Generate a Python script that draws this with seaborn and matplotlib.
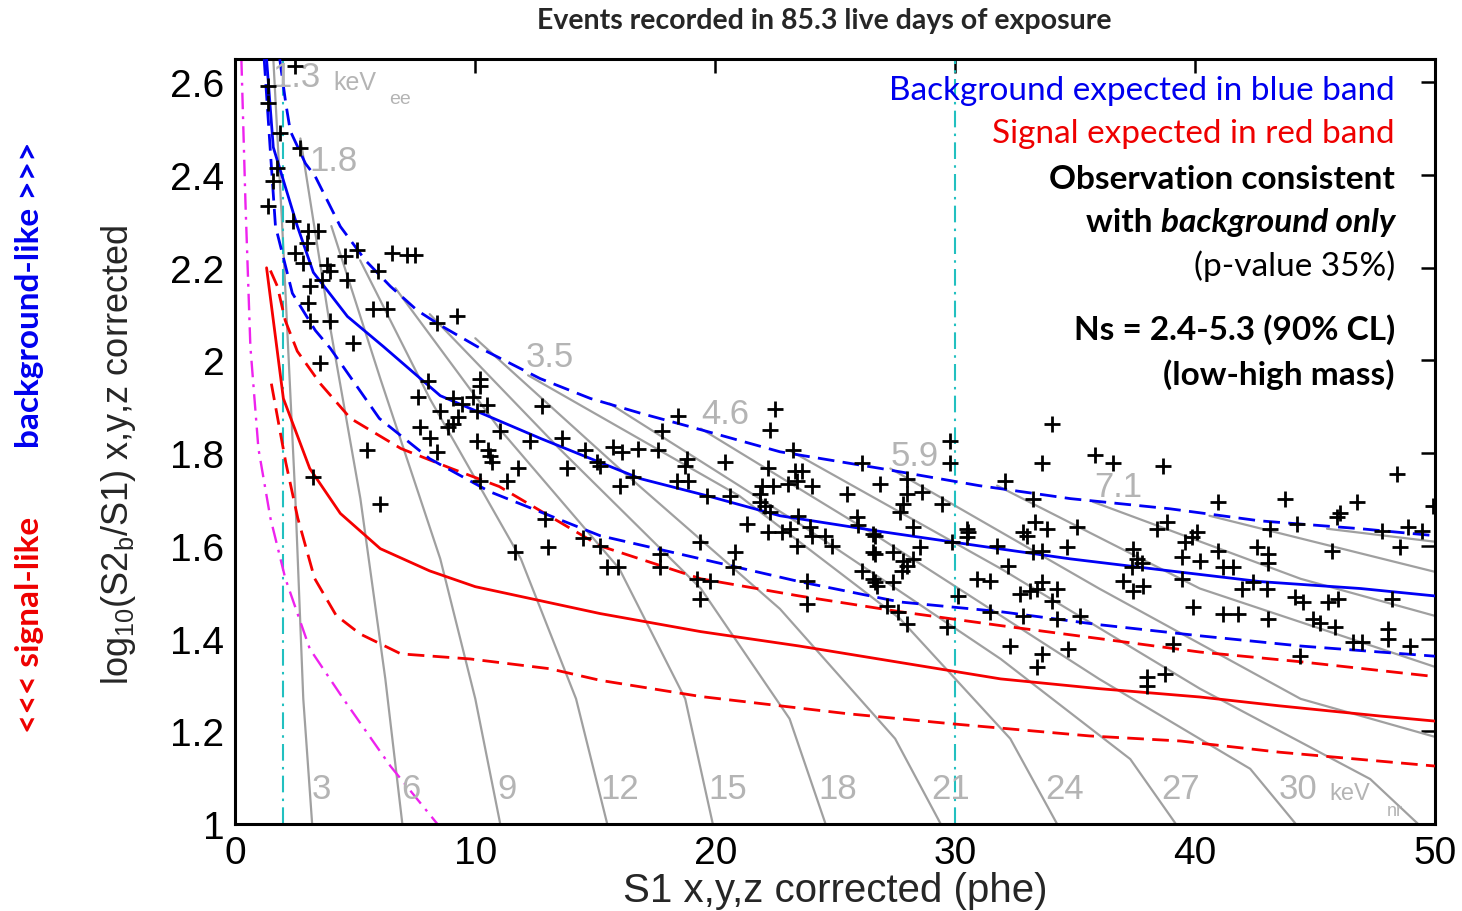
import matplotlib
matplotlib.use("Agg")
import matplotlib.pyplot as plt
import seaborn as sns
import pandas as pd

sns.set_theme(style="white")
plt.rcParams['font.family'] = ['Liberation Sans', 'DejaVu Sans']
plt.rcParams['mathtext.fontset'] = 'custom'
plt.rcParams['mathtext.rm'] = 'Liberation Sans'
plt.rcParams['mathtext.it'] = 'Liberation Sans:italic'

# ---------------- data ----------------
x_ticks = [0, 10, 20, 30, 40, 50]
x_tick_labels = ["0", "10", "20", "30", "40", "50"]
y_ticks = [1.0, 1.2, 1.4, 1.6, 1.8, 2.0, 2.2, 2.4, 2.6]
y_tick_labels = ["1", "1.2", "1.4", "1.6", "1.8", "2", "2.2", "2.4", "2.6"]

events_s1 = [2.50, 1.375, 1.375, 1.875, 2.71, 1.75, 1.58, 1.375, 2.42, 3.04, 3.46, 3.0, 2.5, 2.83,
             3.83, 3.96, 4.58, 5.08, 6.54, 7.17, 7.5, 5.96, 3.125, 3.625, 4.67, 3.04, 5.75, 6.33,
             3.125, 3.96, 8.42, 9.25, 4.92, 3.54, 3.25, 5.5, 6.04,
             8.04, 7.625, 7.71, 8.125, 8.42, 10.21, 10.21, 9.92, 9.08, 9.46, 10.5, 10.08, 8.54, 9.29,
             9.08, 8.875, 12.79, 11.04, 10.08, 12.29, 13.625, 10.54, 10.625, 10.71, 11.79, 14.58,
             15.75, 16.125, 16.79, 17.625, 17.79, 18.46, 13.83, 15.08, 18.83, 18.75, 20.42, 10.21,
             11.33, 16.04, 16.58, 18.42, 18.875, 19.67, 20.625, 15.21, 12.92, 13.04, 11.67, 14.5,
             15.21, 15.5, 15.96, 17.71, 17.71, 19.375, 19.375, 19.25, 19.79, 20.83, 20.75, 21.33,
             22.5, 22.29, 23.25, 26.125, 29.79, 29.79, 22.21, 23.33, 23.625, 21.96, 22.42, 23.04,
             23.42, 24.04, 21.875, 21.875, 26.875, 28.0, 28.0, 28.625, 25.5, 29.46, 27.83, 27.71,
             22.08, 22.29, 23.46, 25.92, 25.96, 22.21, 22.79, 23.125, 23.96, 24.04, 24.58, 28.25,
             26.58, 23.42, 24.875, 29.875, 28.54, 26.58, 27.42, 27.83, 28.0, 28.25, 26.125, 30.54,
             23.83, 23.83, 27.17, 27.625, 28.0, 29.67, 26.58, 26.75, 27.42, 30.125,
             34.04, 33.625, 35.83, 36.58, 38.67, 32.08, 33.25, 33.33, 33.83, 32.83, 33.0, 30.5,
             30.5, 35.08, 38.42, 38.83, 26.67, 31.75, 34.67, 33.25, 33.625, 37.42, 37.58, 37.79,
             37.375, 26.67, 27.79, 32.21, 30.92, 31.46, 37.0, 37.42, 37.83, 26.67, 32.71, 33.125,
             33.42, 33.625, 34.25, 34.04, 31.46, 32.83, 35.21,
             40.96, 43.75, 46.75, 46.04, 45.92, 44.25, 43.125, 40.08, 39.875, 39.58, 40.96, 42.58,
             43.04, 43.04, 45.71, 39.46, 40.21, 41.17, 41.58, 39.46, 41.96, 42.42, 43.0, 44.17,
             44.5, 45.54, 45.96, 39.92, 41.17, 41.79, 43.04, 44.92, 45.21, 45.83, 48.42, 49.92,
             47.79, 48.875, 49.46, 48.54, 48.21, 46.58, 46.96, 48.04, 48.04, 48.96, 44.375, 38.0,
             38.0, 38.75, 39.08, 32.29, 33.625, 34.71, 33.42, 34.25]
events_logratio = [2.635, 2.592, 2.555, 2.490, 2.458, 2.415, 2.387, 2.333, 2.300, 2.279, 2.279, 2.253,
                   2.231, 2.210, 2.205, 2.194, 2.225, 2.238, 2.231, 2.227, 2.227, 2.194, 2.160, 2.173,
                   2.173, 2.123, 2.112, 2.112, 2.086, 2.086, 2.080, 2.097, 2.037, 1.994, 1.749, 1.806,
                   1.691,
                   1.955, 1.922, 1.857, 1.832, 1.803, 1.961, 1.944, 1.922, 1.918, 1.907, 1.903, 1.892,
                   1.890, 1.879, 1.864, 1.857, 1.901, 1.847, 1.827, 1.827, 1.832, 1.806, 1.793, 1.782,
                   1.767, 1.806, 1.814, 1.803, 1.810, 1.806, 1.847, 1.881, 1.767, 1.782, 1.788, 1.773,
                   1.782, 1.741, 1.741, 1.730, 1.749, 1.741, 1.741, 1.708, 1.708, 1.773, 1.659, 1.598,
                   1.587, 1.616, 1.600, 1.555, 1.555, 1.583, 1.555, 1.609, 1.486, 1.529, 1.525, 1.587,
                   1.555, 1.648,
                   1.896, 1.849, 1.806, 1.778, 1.827, 1.778, 1.767, 1.762, 1.762, 1.730, 1.730, 1.734,
                   1.741, 1.730, 1.713, 1.695, 1.734, 1.745, 1.713, 1.717, 1.713, 1.691, 1.691, 1.674,
                   1.685, 1.674, 1.665, 1.663, 1.644, 1.631, 1.631, 1.637, 1.641, 1.622, 1.622, 1.641,
                   1.626, 1.600, 1.600, 1.609, 1.598, 1.587, 1.587, 1.568, 1.557, 1.572, 1.546, 1.631,
                   1.525, 1.475, 1.471, 1.458, 1.432, 1.425, 1.529, 1.514, 1.523, 1.492,
                   1.864, 1.778, 1.795, 1.778, 1.773, 1.741, 1.702, 1.652, 1.637, 1.631, 1.622, 1.637,
                   1.620, 1.641, 1.637, 1.652, 1.622, 1.600, 1.598, 1.587, 1.590, 1.594, 1.572, 1.562,
                   1.555, 1.583, 1.546, 1.557, 1.529, 1.525, 1.525, 1.503, 1.514, 1.523, 1.497, 1.503,
                   1.508, 1.523, 1.508, 1.482, 1.458, 1.449, 1.449,
                   1.695, 1.702, 1.695, 1.670, 1.663, 1.648, 1.637, 1.631, 1.620, 1.609, 1.590, 1.598,
                   1.583, 1.562, 1.590, 1.577, 1.568, 1.555, 1.555, 1.529, 1.508, 1.523, 1.508, 1.490,
                   1.479, 1.479, 1.486, 1.469, 1.454, 1.454, 1.443, 1.443, 1.434, 1.425, 1.756, 1.685,
                   1.633, 1.641, 1.633, 1.598, 1.486, 1.393, 1.393, 1.421, 1.400, 1.384, 1.363, 1.318,
                   1.298, 1.324, 1.389, 1.384, 1.367, 1.378, 1.339, 1.443]

# background (ER) band: median and 10/90% lines
blue_mid_s1 = [1.30, 1.58, 2.58, 3.25, 4.67, 6.17, 8.54, 12.71, 16.88, 19.67, 22.7, 26.9, 31.0, 34.8, 38.96, 42.7, 46.9, 50.0]
blue_mid_y = [2.65, 2.46, 2.29, 2.19, 2.095, 2.03, 1.924, 1.832, 1.745, 1.708, 1.665, 1.631, 1.600, 1.572, 1.546, 1.523, 1.508, 1.492]
blue_hi_s1 = [1.85, 2.10, 2.29, 2.92, 3.33, 4.375, 5.42, 6.46, 7.58, 8.54, 10.08, 12.7, 14.8, 16.9, 18.96, 22.7, 26.9, 31.0, 34.8, 38.96, 42.7, 46.9, 50.0]
blue_hi_y = [2.65, 2.555, 2.495, 2.425, 2.397, 2.289, 2.216, 2.160, 2.108, 2.076, 2.030, 1.961, 1.918, 1.886, 1.857, 1.803, 1.767, 1.730, 1.702, 1.680, 1.654, 1.637, 1.622]
blue_lo_s1 = [1.20, 1.46, 1.67, 2.375, 3.33, 3.96, 6.0, 8.1, 10.6, 15.2, 19.4, 23.5, 27.7, 31.9, 36.0, 40.2, 44.4, 50.0]
blue_lo_y = [2.65, 2.45, 2.29, 2.145, 2.065, 2.026, 1.875, 1.788, 1.717, 1.622, 1.572, 1.523, 1.479, 1.458, 1.430, 1.406, 1.384, 1.362]

# signal (NR) band: median and 10/90% lines
red_mid_s1 = [1.30, 2.0, 3.1, 4.375, 6.04, 8.1, 10.0, 15.2, 19.4, 23.5, 31.9, 36.0, 40.2, 43.5, 47.7, 50.0]
red_mid_y = [2.20, 1.918, 1.767, 1.670, 1.594, 1.546, 1.512, 1.454, 1.415, 1.384, 1.313, 1.292, 1.274, 1.255, 1.233, 1.222]
red_hi_s1 = [1.46, 1.75, 2.08, 2.58, 3.54, 4.8, 6.9, 9.0, 11.0, 15.2, 19.4, 23.5, 27.7, 31.9, 36.0, 40.2, 44.4, 50.0]
red_hi_y = [2.194, 2.16, 2.086, 2.02, 1.950, 1.875, 1.81, 1.767, 1.728, 1.600, 1.529, 1.492, 1.458, 1.428, 1.400, 1.371, 1.350, 1.318]
red_lo_s1 = [1.5, 2.1, 2.6, 3.3, 4.2, 5.2, 6.9, 9.8, 13.1, 15.2, 19.4, 25.5, 29.9, 35.6, 39.4, 43.5, 50.0]
red_lo_y = [1.95, 1.78, 1.66, 1.53, 1.45, 1.41, 1.367, 1.356, 1.335, 1.31, 1.275, 1.238, 1.216, 1.19, 1.179, 1.155, 1.125]

# S2 threshold curve (magenta) and S1 analysis window (cyan)
s2cut_s1 = [0.25, 0.42, 0.625, 0.96, 1.46, 2.08, 3.1, 4.5, 6.46, 8.42]
s2cut_y = [2.65, 2.34, 2.03, 1.81, 1.66, 1.53, 1.378, 1.27, 1.125, 1.0]
s1_window = [2.0, 30.0]

# constant-energy contours (gray), one list per contour
contour_s1 = [
    [1.58, 2.0, 2.5, 2.83, 3.2],
    [2.71, 3.96, 5.21, 6.25, 6.96],
    [4.0, 6.04, 8.54, 10.0, 11.04],
    [5.2, 8.1, 11.9, 14.2, 15.5],
    [6.67, 11.0, 16.0, 18.75, 19.9],
    [8.1, 13.5, 19.4, 23.1, 24.6],
    [10.0, 16.0, 22.7, 27.5, 29.4],
    [12.2, 21.0, 27.7, 32.3, 34.25],
    [15.6, 23.5, 31.9, 37.3, 39.2],
    [19.4, 26.9, 36.0, 42.3, 44.2],
    [23.1, 31.9, 40.2, 47.3, 49.3],
    [27.3, 36.0, 44.4, 50.0],
    [31.75, 40.2, 50.0],
    [35.75, 44.4, 50.0],
    [40.6, 50.0],
    [45.5, 50.0],
]
contour_y = [
    [2.652, 2.242, 1.702, 1.27, 1.0],
    [2.479, 2.069, 1.702, 1.313, 1.0],
    [2.29, 1.961, 1.572, 1.27, 1.0],
    [2.216, 1.918, 1.572, 1.27, 1.0],
    [2.156, 1.853, 1.551, 1.27, 1.0],
    [2.10, 1.81, 1.508, 1.227, 1.0],
    [2.048, 1.767, 1.464, 1.184, 1.0],
    [1.968, 1.708, 1.443, 1.184, 1.0],
    [1.907, 1.648, 1.356, 1.14, 1.0],
    [1.853, 1.616, 1.313, 1.119, 1.0],
    [1.806, 1.551, 1.292, 1.097, 1.0],
    [1.767, 1.508, 1.27, 1.188],
    [1.730, 1.508, 1.339],
    [1.695, 1.529, 1.449],
    [1.665, 1.544],
    [1.637, 1.609],
]
kevee_labels = ["1.8", "3.5", "4.6", "5.9", "7.1"]
kevee_s1 = [3.1, 12.1, 19.4, 27.3, 35.8]
kevee_y = [2.432, 2.009, 1.886, 1.795, 1.728]
kevnr_labels = ["3", "6", "9", "12", "15", "18", "21", "24", "27", "30"]
kevnr_s1 = [3.2, 6.9, 10.9, 15.2, 19.7, 24.3, 29.0, 33.75, 38.6, 43.5]

# ---------------- figure ----------------
fig = plt.figure(figsize=(14.62, 9.12), dpi=100)
ax = fig.add_axes([0.161, 0.0954, 0.8205, 0.8386])

GRAY = "#a0a0a0"
BLUE = "#0000f5"
RED = "#f50000"

rows = []
for i, (xs, ys) in enumerate(zip(contour_s1, contour_y)):
    for k, (a, b) in enumerate(zip(xs, ys)):
        rows.append({"s1": a, "y": b, "line": i, "order": k})
cdf = pd.DataFrame(rows)
sns.lineplot(data=cdf, x="s1", y="y", units="line", estimator=None, sort=False,
             color=GRAY, lw=1.6, ax=ax, legend=False, zorder=1)

for xv in s1_window:
    sns.lineplot(x=[xv, xv], y=[1.0, 2.66], color="#22c0c0", lw=1.5, estimator=None,
                 sort=False, linestyle=(0, (8, 3, 1.2, 3)), ax=ax, legend=False, zorder=2)
sns.lineplot(x=s2cut_s1, y=s2cut_y, color="#ee22ee", lw=1.7, sort=False, estimator=None,
             linestyle=(0, (7, 3, 1.2, 3)), ax=ax, legend=False, zorder=2)

dash = (0, (6, 3))
kw = dict(lw=2.0, sort=False, estimator=None, ax=ax, zorder=3, legend=False)
sns.lineplot(x=red_mid_s1, y=red_mid_y, color=RED, **kw)
sns.lineplot(x=red_hi_s1, y=red_hi_y, color=RED, linestyle=dash, **kw)
sns.lineplot(x=red_lo_s1, y=red_lo_y, color=RED, linestyle=dash, **kw)
sns.lineplot(x=blue_mid_s1, y=blue_mid_y, color=BLUE, **kw)
sns.lineplot(x=blue_hi_s1, y=blue_hi_y, color=BLUE, linestyle=dash, **kw)
sns.lineplot(x=blue_lo_s1, y=blue_lo_y, color=BLUE, linestyle=dash, **kw)

sns.scatterplot(x=events_s1, y=events_logratio, marker="+", s=120, color="black",
                linewidth=2.0, ax=ax, zorder=5, legend=False)

ax.set_xlim(0, 50)
ax.set_ylim(1.0, 2.65)
ax.set_xticks(x_ticks, labels=x_tick_labels)
ax.set_yticks(y_ticks, labels=y_tick_labels)
ax.tick_params(direction="in", length=10, width=1.8, top=True, right=True,
               labelsize=28, pad=8, colors="black")
for s in ax.spines.values():
    s.set_linewidth(2.2)
    s.set_color("black")

ax.set_xlabel("S1 x,y,z corrected (phe)", fontsize=29, labelpad=0)
ax.set_ylabel(r"$\mathregular{log_{10}(S2_b/S1)}$ x,y,z corrected", fontsize=26)
ax.yaxis.set_label_coords(-0.081, 0.484)

# contour labels
LGRAY = "#b4b4b4"
ax.text(1.55, 2.612, "1.3", color=LGRAY, fontsize=25, va="center", ha="left", zorder=4)
ax.text(4.1, 2.600, "keV", color=LGRAY, fontsize=18, va="center", ha="left", zorder=4)
ax.text(6.4, 2.565, "ee", color=LGRAY, fontsize=14, va="center", ha="left", zorder=4)
for lab, xs, ys in zip(kevee_labels, kevee_s1, kevee_y):
    ax.text(xs, ys, lab, color=LGRAY, fontsize=25, va="center", ha="left", zorder=4)
for lab, xs in zip(kevnr_labels, kevnr_s1):
    ax.text(xs, 1.076, lab, color=LGRAY, fontsize=25, va="center", ha="left", zorder=4)
ax.text(45.6, 1.066, "keV", color=LGRAY, fontsize=17, va="center", ha="left", zorder=4)
ax.text(48.0, 1.03, "nr", color=LGRAY, fontsize=13, va="center", ha="left", zorder=4)

# annotation block
AF = ["Lato", "DejaVu Sans"]
FS = 24
xr = 48.33
ax.text(xr, 2.583, "Background expected in blue band", color="#0000ee", fontsize=FS,
        ha="right", va="center", family=AF, zorder=6)
ax.text(xr, 2.490, "Signal expected in red band", color="#ee0000", fontsize=FS,
        ha="right", va="center", family=AF, zorder=6)
ax.text(xr, 2.393, "Observation consistent", color="black", fontsize=FS, fontweight="bold",
        ha="right", va="center", family=AF, zorder=6)
t_it = ax.text(xr, 2.300, "background only", color="black", fontsize=FS, fontweight="bold",
               fontstyle="italic", ha="right", va="center", family=AF, zorder=6)
fig.canvas.draw()
bb = t_it.get_window_extent().transformed(ax.transData.inverted())
ax.text(bb.x0, 2.300, "with ", color="black", fontsize=FS, fontweight="bold",
        ha="right", va="center", family=AF, zorder=6)
ax.text(xr, 2.205, "(p-value 35%)", color="black", fontsize=FS,
        ha="right", va="center", family=AF, zorder=6)
ax.text(xr, 2.069, "Ns = 2.4-5.3 (90% CL)", color="black", fontsize=FS, fontweight="bold",
        ha="right", va="center", family=AF, zorder=6)
ax.text(xr, 1.972, "(low-high mass)", color="black", fontsize=FS, fontweight="bold",
        ha="right", va="center", family=AF, zorder=6)

fig.text(0.564, 0.977, "Events recorded in 85.3 live days of exposure", fontsize=20.5,
         fontweight="bold", ha="center", va="center", family=AF)
fig.text(0.0205, 0.677, "background-like >>>", color="#0000ee", fontsize=24, fontweight="bold",
         rotation=90, ha="center", va="center", family=AF)
fig.text(0.0205, 0.315, "<<< signal-like", color="#ee0000", fontsize=24, fontweight="bold",
         rotation=90, ha="center", va="center", family=AF)

fig.savefig("out.png", dpi=100)
